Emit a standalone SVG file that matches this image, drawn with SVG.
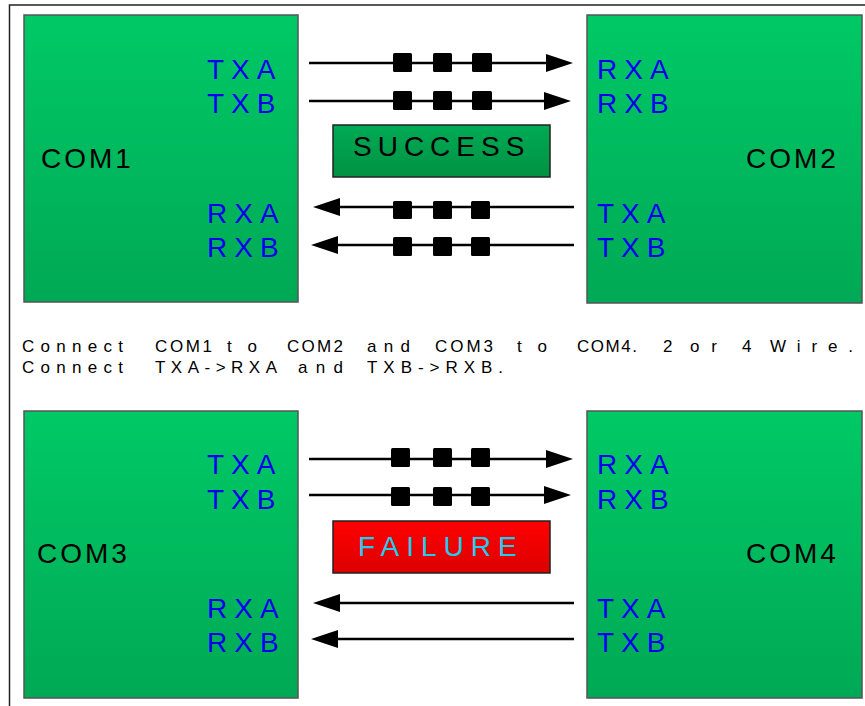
<svg xmlns="http://www.w3.org/2000/svg" width="865" height="706" viewBox="0 0 865 706">
<defs>
<linearGradient id="gBox" x1="0" y1="0" x2="0" y2="1">
<stop offset="0" stop-color="#00C966"/>
<stop offset="1" stop-color="#00A955"/>
</linearGradient>
<linearGradient id="gOk" x1="0" y1="0" x2="0" y2="1">
<stop offset="0" stop-color="#00AA55"/>
<stop offset="1" stop-color="#009243"/>
</linearGradient>
<linearGradient id="gBad" x1="0" y1="0" x2="0" y2="1">
<stop offset="0" stop-color="#FF0000"/>
<stop offset="1" stop-color="#DC0000"/>
</linearGradient>
<marker id="ah" markerUnits="userSpaceOnUse" markerWidth="28" markerHeight="20" refX="17" refY="9" orient="auto" viewBox="0 0 28 18">
<path d="M0,0 L27,9 L0,18 z" fill="#000"/>
</marker>
<style>
.box{fill:url(#gBox);stroke:#555;stroke-width:1.5}
.com{font-family:"Liberation Sans",Arial,sans-serif;font-size:28px;fill:#000;letter-spacing:3px}
.pin{font-family:"Liberation Sans",Arial,sans-serif;font-size:28px;fill:#0000EE;letter-spacing:7px}
.wire{stroke:#000;stroke-width:2.5;fill:none;marker-end:url(#ah)}
.sq{fill:#000}
.cap{font-family:"Liberation Sans",Arial,sans-serif;font-size:17px;fill:#000}
.status{font-family:"Liberation Sans",Arial,sans-serif;font-size:28px;letter-spacing:6px}
</style>
</defs>
<rect x="9.5" y="5" width="880" height="720" fill="#fff" stroke="#222" stroke-width="1.5"/>

<g id="com1">
<rect class="box" x="24" y="15" width="274" height="287"/>
<text class="com" x="41" y="168">COM1</text>
<text class="pin" x="207" y="79">TXA</text>
<text class="pin" x="207" y="113">TXB</text>
<text class="pin" x="207" y="223">RXA</text>
<text class="pin" x="207" y="257">RXB</text>
</g>
<g id="com2">
<rect class="box" x="587" y="15" width="275" height="288"/>
<text class="com" x="746" y="168">COM2</text>
<text class="pin" x="597" y="79">RXA</text>
<text class="pin" x="597" y="113">RXB</text>
<text class="pin" x="597" y="223">TXA</text>
<text class="pin" x="597" y="257">TXB</text>
</g>
<g id="success">
<rect x="333" y="125" width="217" height="52" fill="url(#gOk)" stroke="#222" stroke-width="1.5"/>
<text class="status" x="353" y="156" fill="#000">SUCCESS</text>
</g>

<g id="caption">
<text class="cap" x="22" y="352" textLength="101">Connect</text>
<text class="cap" x="155" y="352" textLength="57">COM1</text>
<text class="cap" x="227" y="352" textLength="30">to</text>
<text class="cap" x="287" y="352" textLength="56">COM2</text>
<text class="cap" x="367" y="352" textLength="43">and</text>
<text class="cap" x="435" y="352" textLength="58">COM3</text>
<text class="cap" x="517" y="352" textLength="30">to</text>
<text class="cap" x="577" y="352" textLength="60">COM4.</text>
<text class="cap" x="663" y="352">2</text>
<text class="cap" x="690" y="352" textLength="27">or</text>
<text class="cap" x="742" y="352">4</text>
<text class="cap" x="770" y="352" textLength="83">Wire.</text>
<text class="cap" x="22" y="373" textLength="101">Connect</text>
<text class="cap" x="155" y="373" textLength="122">TXA-&gt;RXA</text>
<text class="cap" x="298" y="373" textLength="45">and</text>
<text class="cap" x="367" y="373" textLength="136">TXB-&gt;RXB.</text>
</g>

<g id="com3">
<rect class="box" x="24" y="411" width="274" height="287"/>
<text class="com" x="37" y="563">COM3</text>
<text class="pin" x="207" y="474">TXA</text>
<text class="pin" x="207" y="509">TXB</text>
<text class="pin" x="207" y="618">RXA</text>
<text class="pin" x="207" y="652">RXB</text>
</g>
<g id="com4">
<rect class="box" x="587" y="411" width="275" height="287"/>
<text class="com" x="746" y="563">COM4</text>
<text class="pin" x="597" y="474">RXA</text>
<text class="pin" x="597" y="509">RXB</text>
<text class="pin" x="597" y="618">TXA</text>
<text class="pin" x="597" y="652">TXB</text>
</g>
<g id="failure">
<rect x="333" y="521" width="217" height="52" fill="url(#gBad)" stroke="#222" stroke-width="1.5"/>
<text class="status" x="358" y="556" fill="#22CCEE" style="letter-spacing:7px">FAILURE</text>
</g>

<g id="connectors">
<line class="wire" x1="309" y1="63" x2="563" y2="63"/>
<line class="wire" x1="309" y1="101" x2="561" y2="101"/>
<line class="wire" x1="574" y1="207" x2="323" y2="207"/>
<line class="wire" x1="574" y1="245" x2="321" y2="245"/>
<rect class="sq" x="393" y="53" width="19" height="19" rx="1.5"/>
<rect class="sq" x="433" y="53" width="19" height="19" rx="1.5"/>
<rect class="sq" x="472" y="53" width="20" height="19" rx="1.5"/>
<rect class="sq" x="393" y="91" width="19" height="19" rx="1.5"/>
<rect class="sq" x="433" y="91" width="19" height="19" rx="1.5"/>
<rect class="sq" x="472" y="91" width="20" height="19" rx="1.5"/>
<rect class="sq" x="393" y="201" width="19" height="18" rx="1.5"/>
<rect class="sq" x="433" y="201" width="19" height="18" rx="1.5"/>
<rect class="sq" x="471" y="201" width="19" height="18" rx="1.5"/>
<rect class="sq" x="393" y="237" width="19" height="19" rx="1.5"/>
<rect class="sq" x="433" y="237" width="19" height="19" rx="1.5"/>
<rect class="sq" x="471" y="237" width="19" height="19" rx="1.5"/>
<line class="wire" x1="309" y1="459" x2="563" y2="459"/>
<line class="wire" x1="309" y1="495" x2="561" y2="495"/>
<line class="wire" x1="574" y1="603" x2="323" y2="603"/>
<line class="wire" x1="574" y1="639" x2="321" y2="639"/>
<rect class="sq" x="391" y="448" width="19" height="19" rx="1.5"/>
<rect class="sq" x="433" y="448" width="19" height="19" rx="1.5"/>
<rect class="sq" x="471" y="448" width="19" height="19" rx="1.5"/>
<rect class="sq" x="391" y="487" width="19" height="19" rx="1.5"/>
<rect class="sq" x="433" y="487" width="19" height="19" rx="1.5"/>
<rect class="sq" x="471" y="487" width="19" height="19" rx="1.5"/>
</g>
</svg>
